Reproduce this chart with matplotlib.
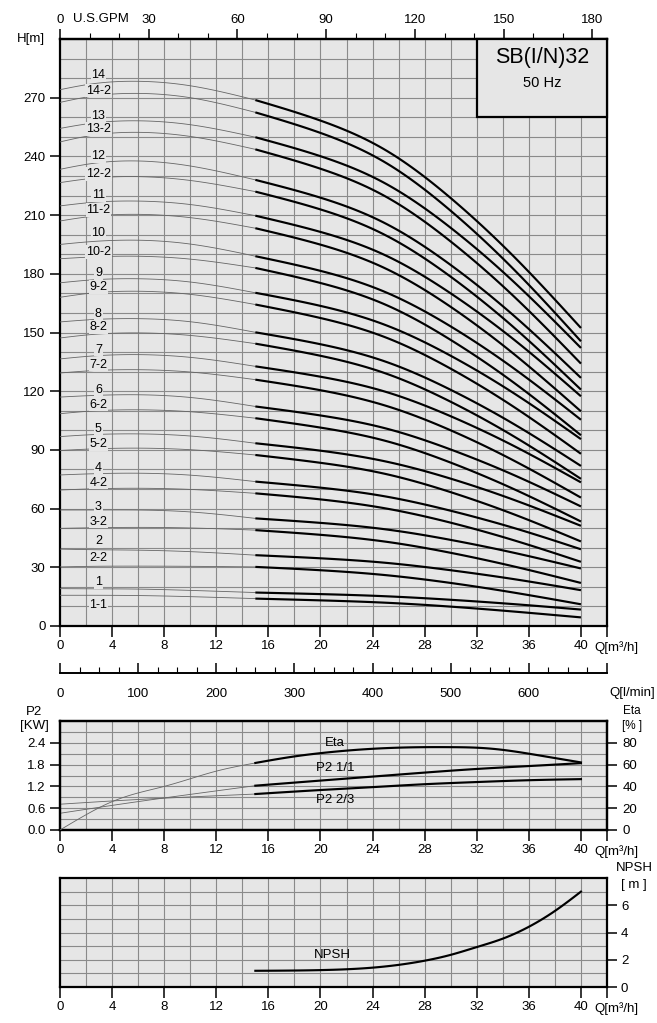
import matplotlib
matplotlib.use('Agg')
import matplotlib.pyplot as plt
import numpy as np
from matplotlib.ticker import MultipleLocator, FixedLocator
from matplotlib.patches import Rectangle

plt.rcParams['font.family'] = ['Liberation Sans', 'DejaVu Sans']
plt.rcParams['font.size'] = 9

# ---------------- data ----------------
q_thin = [0, 2.5, 5.5, 10, 15]
q_thick = [15, 20, 25, 30, 35, 40]

names_full = ['1', '2', '3', '4', '5', '6', '7', '8', '9', '10', '11', '12', '13', '14']
names_red = ['1-1', '2-2', '3-2', '4-2', '5-2', '6-2', '7-2', '8-2', '9-2', '10-2',
             '11-2', '12-2', '13-2', '14-2']

thin_full = [
    [19.1, 19.0, 18.9, 18.2, 17.1],
    [39.3, 39.0, 38.8, 38.0, 36.2],
    [59.3, 59.3, 59.3, 58.3, 55.0],
    [77.2, 77.8, 78.1, 77.1, 73.8],
    [96.8, 97.8, 98.2, 97.1, 93.4],
    [117.0, 117.8, 118.2, 116.8, 112.2],
    [136.5, 138.0, 138.7, 137.3, 132.7],
    [155.4, 156.6, 157.1, 155.5, 150.1],
    [175.4, 176.9, 177.5, 175.8, 170.3],
    [195.0, 196.5, 197.2, 195.2, 189.0],
    [214.7, 216.5, 217.2, 215.4, 209.7],
    [233.4, 236.4, 237.7, 235.1, 228.0],
    [254.3, 257.0, 258.2, 256.2, 249.8],
    [274.1, 277.1, 278.4, 276.1, 268.8],
]
thin_red = [
    [15.7, 15.7, 15.6, 15.0, 14.0],
    [30.2, 30.5, 30.6, 30.5, 30.2],
    [49.9, 50.2, 50.4, 50.1, 49.0],
    [69.5, 70.1, 70.4, 69.8, 67.8],
    [89.7, 90.5, 90.9, 90.1, 87.4],
    [108.5, 109.9, 110.5, 109.5, 106.2],
    [129.3, 130.5, 131.0, 129.8, 125.9],
    [147.2, 149.0, 149.8, 148.5, 144.3],
    [168.0, 170.2, 171.1, 169.5, 164.3],
    [187.7, 188.6, 189.0, 187.5, 183.0],
    [207.0, 209.4, 210.4, 208.7, 203.3],
    [226.6, 228.8, 229.7, 227.7, 222.0],
    [247.4, 250.8, 252.3, 250.2, 243.6],
    [267.6, 270.8, 272.2, 270.0, 262.5],
]
thick_full = [
    [17.1, 16.3, 15.2, 13.4, 11.1, 8.4],
    [36.2, 34.6, 32.3, 28.5, 23.8, 18.3],
    [55.0, 52.7, 49.4, 44.0, 37.2, 29.4],
    [73.8, 70.7, 66.2, 58.9, 49.8, 39.2],
    [93.4, 89.6, 84.1, 75.3, 64.1, 51.2],
    [112.2, 107.6, 101.0, 90.2, 76.7, 61.1],
    [132.7, 127.4, 119.7, 107.2, 91.5, 73.4],
    [150.1, 144.0, 135.1, 120.7, 102.6, 81.8],
    [170.3, 163.6, 153.8, 138.1, 118.3, 95.5],
    [189.0, 181.5, 170.6, 153.1, 130.9, 105.4],
    [209.7, 201.4, 189.4, 170.0, 145.6, 117.4],
    [228.0, 218.9, 205.7, 184.5, 157.7, 126.8],
    [249.8, 240.1, 226.1, 203.5, 174.9, 142.1],
    [268.8, 258.3, 243.2, 218.7, 187.8, 152.3],
]
thick_red = [
    [14.0, 13.1, 11.9, 9.9, 7.3, 4.4],
    [30.2, 28.5, 26.0, 22.0, 16.9, 11.1],
    [49.0, 46.6, 43.1, 37.4, 30.2, 22.0],
    [67.8, 64.7, 60.1, 52.8, 43.5, 32.8],
    [87.4, 83.4, 77.7, 68.4, 56.7, 43.2],
    [106.2, 101.4, 94.6, 83.5, 69.5, 53.4],
    [125.9, 120.5, 112.6, 100.0, 84.0, 65.6],
    [144.3, 138.1, 129.1, 114.6, 96.3, 75.2],
    [164.3, 157.4, 147.5, 131.5, 111.3, 88.0],
    [183.0, 175.3, 164.2, 146.2, 123.6, 97.5],
    [203.3, 194.9, 182.7, 163.1, 138.2, 109.7],
    [222.0, 212.9, 199.7, 178.5, 151.7, 120.8],
    [243.6, 233.7, 219.5, 196.5, 167.5, 134.1],
    [262.5, 252.0, 236.8, 212.2, 181.2, 145.5],
]
label_y_full = [22.5, 43.4, 60.6, 80.6, 100.8, 120.8, 141.2, 159.7, 180.5, 200.7,
                220.1, 240.0, 260.8, 281.6]
label_y_red = [10.6, 34.5, 53.3, 73.3, 93.1, 113.1, 133.6, 152.9, 173.3, 191.1,
               212.6, 230.9, 253.9, 273.6]

# power / efficiency
q_p_thin = [0, 5, 10, 15]
p2_full_thin = [0.46, 0.73, 0.98, 1.22]
p2_23_thin = [0.71, 0.82, 0.91, 0.99]
q_p_thick = [15, 20, 24, 28, 32, 36, 40]
p2_full_thick = [1.22, 1.36, 1.47, 1.58, 1.68, 1.76, 1.84]
p2_23_thick = [0.99, 1.10, 1.18, 1.26, 1.32, 1.37, 1.40]
q_eta_thin = [0, 2, 4, 6, 8, 10, 12, 15]
eta_thin = [0, 14, 26, 34, 40, 47, 54, 61.5]
q_eta_thick = [15, 18, 20, 24, 28, 30, 32, 34, 36, 38, 40]
eta_thick = [61.5, 67.5, 70.5, 74.5, 76, 76, 75.5, 73.5, 70, 66, 62]

# NPSH
q_npsh = [15, 20, 24, 28, 30, 32, 34, 36, 38, 40]
npsh = [1.19, 1.24, 1.42, 1.93, 2.36, 2.93, 3.55, 4.42, 5.58, 7.0]

q_ticks = [0, 4, 8, 12, 16, 20, 24, 28, 32, 36, 40, 42]
q_ticklabels = ['0', '4', '8', '12', '16', '20', '24', '28', '32', '36', '40', '']

# ---------------- style ----------------
BG = '#e6e6e6'
GRID = '#8a8a8a'
THIN = '#666666'
THICK_LW = 1.55
W, H = 657, 1023


def smooth(x, y, n=80):
    """Natural cubic spline through the read points (display only)."""
    x = np.asarray(x, float)
    y = np.asarray(y, float)
    m = len(x)
    h = np.diff(x)
    A = np.zeros((m, m))
    r = np.zeros(m)
    A[0, 0] = A[-1, -1] = 1.0
    for i in range(1, m - 1):
        A[i, i - 1] = h[i - 1]
        A[i, i] = 2 * (h[i - 1] + h[i])
        A[i, i + 1] = h[i]
        r[i] = 6 * ((y[i + 1] - y[i]) / h[i] - (y[i] - y[i - 1]) / h[i - 1])
    M = np.linalg.solve(A, r)
    xs = np.linspace(x[0], x[-1], n)
    k = np.clip(np.searchsorted(x, xs) - 1, 0, m - 2)
    hk = h[k]
    a = (x[k + 1] - xs) / hk
    b = (xs - x[k]) / hk
    ys = a * y[k] + b * y[k + 1] + ((a ** 3 - a) * M[k] + (b ** 3 - b) * M[k + 1]) * hk ** 2 / 6
    return xs, ys


fig = plt.figure(figsize=(W / 100, H / 100), dpi=100)


def fa(x0, y_top, x1, y_bot):
    return [x0 / W, (H - y_bot) / H, (x1 - x0) / W, (y_bot - y_top) / H]


def base(ax, ymax, ystep, qlab_y):
    ax.set_facecolor(BG)
    ax.set_xlim(0, 42)
    ax.set_ylim(0, ymax)
    for x in np.arange(2, 42, 2):
        ax.axvline(x, color=GRID, lw=0.8, zorder=1)
    for y in np.arange(ystep, ymax - 1e-6, ystep):
        ax.axhline(y, color=GRID, lw=0.8, zorder=1)
    for s in ax.spines.values():
        s.set_linewidth(1.6)
        s.set_color('black')
    ax.xaxis.set_major_locator(FixedLocator(q_ticks))
    ax.set_xticklabels(q_ticklabels)
    ax.tick_params(axis='x', direction='out', length=8, width=1.1, pad=2, labelsize=9.5)
    ax.tick_params(axis='y', direction='out', length=7, width=1.1, pad=3.5, labelsize=9.5)
    ax.text(41.0, qlab_y, 'Q[m³/h]', transform=ax.get_xaxis_transform(),
            ha='left', va='center', fontsize=9.5)


# ---------------- main H-Q chart ----------------
ax = fig.add_axes(fa(60, 39, 607, 626))
base(ax, 300, 10, -0.037)
ax.yaxis.set_major_locator(FixedLocator(list(range(0, 271, 30))))

for i in range(14):
    for thin, thick in ((thin_full[i], thick_full[i]), (thin_red[i], thick_red[i])):
        ax.plot(*smooth(q_thin, thin), color=THIN, lw=0.6, zorder=3)
        ax.plot(*smooth(q_thick, thick), color='black', lw=THICK_LW, zorder=4,
                solid_capstyle='butt')
    for nm, yy in ((names_full[i], label_y_full[i]), (names_red[i], label_y_red[i])):
        ax.text(2.95, yy, nm, ha='center', va='center', fontsize=9, zorder=5,
                bbox=dict(facecolor=BG, edgecolor='none', pad=0.5))

ax.add_patch(Rectangle((32, 260), 10, 40, facecolor=BG, edgecolor='black', lw=1.6,
                       zorder=6, clip_on=False))
ax.text(37.0, 290.3, 'SB(I/N)32', ha='center', va='center', fontsize=15.5, zorder=7)
ax.text(37.0, 277.5, '50 Hz', ha='center', va='center', fontsize=10.5, zorder=7)
ax.text(-0.028, 1.0, 'H[m]', transform=ax.transAxes, ha='right', va='center', fontsize=9.5)

gpm = ax.secondary_xaxis('top', functions=(lambda q: q * 4.4029, lambda g: g / 4.4029))
gpm.xaxis.set_major_locator(FixedLocator([0, 30, 60, 90, 120, 150, 180]))
gpm.xaxis.set_minor_locator(MultipleLocator(10))
gpm.tick_params(which='major', direction='out', length=7.5, width=1.1, pad=2, labelsize=9.5)
gpm.tick_params(which='minor', direction='out', length=4, width=0.8)
gpm.spines['top'].set_linewidth(1.6)
ax.text(3.15, 1.0 + 20 / 587, 'U.S.GPM', transform=ax.get_xaxis_transform(),
        ha='center', va='center', fontsize=9.5)

# ---------------- l/min scale ----------------
axl = fig.add_axes(fa(60, 672, 607, 673))
axl.set_xlim(0, 700)
axl.set_yticks([])
for s in ('top', 'left', 'right'):
    axl.spines[s].set_visible(False)
axl.spines['bottom'].set_linewidth(1.4)
axl.patch.set_visible(False)
axl.xaxis.set_major_locator(FixedLocator([0, 100, 200, 300, 400, 500, 600, 700]))
axl.set_xticklabels(['0', '100', '200', '300', '400', '500', '600', ''])
axl.xaxis.set_minor_locator(MultipleLocator(25))
axl.tick_params(which='major', direction='in', length=7, width=1.1, pad=11, labelsize=9.5)
axl.tick_params(which='minor', direction='in', length=4, width=0.8)
fig.text(609 / W, (H - 693) / H, 'Q[l/min]', ha='left', va='center', fontsize=9.5)

# ---------------- P2 / Eta chart ----------------
axp = fig.add_axes(fa(60, 721, 607, 830))
base(axp, 3.0, 0.3, -0.2)
axp.yaxis.set_major_locator(FixedLocator([0, 0.6, 1.2, 1.8, 2.4]))
axp.set_yticklabels(['0.0', '0.6', '1.2', '1.8', '2.4'])
axp.plot(*smooth(q_p_thin, p2_full_thin), color=THIN, lw=0.6, zorder=3)
axp.plot(*smooth(q_p_thin, p2_23_thin), color=THIN, lw=0.6, zorder=3)
axp.plot(*smooth(q_p_thick, p2_full_thick), color='black', lw=THICK_LW, zorder=4)
axp.plot(*smooth(q_p_thick, p2_23_thick), color='black', lw=THICK_LW, zorder=4)
axe = axp.twinx()
axe.set_ylim(0, 100)
axe.yaxis.set_major_locator(FixedLocator([0, 20, 40, 60, 80]))
axe.tick_params(axis='y', direction='out', length=7, width=1.1, pad=4, labelsize=9.5)
for s in axe.spines.values():
    s.set_linewidth(1.6)
axe.plot(*smooth(q_eta_thin, eta_thin), color=THIN, lw=0.6, zorder=3)
axe.plot(*smooth(q_eta_thick, eta_thick), color='black', lw=THICK_LW, zorder=4)
axp.text(21.1, 2.40, 'Eta', ha='center', va='center', fontsize=9.5, zorder=5)
axp.text(21.1, 1.71, 'P2 1/1', ha='center', va='center', fontsize=9.5, zorder=5)
axp.text(21.1, 0.83, 'P2 2/3', ha='center', va='center', fontsize=9.5, zorder=5)
fig.text(34 / W, (H - 712) / H, 'P2', ha='center', va='center', fontsize=9.5)
fig.text(34 / W, (H - 726) / H, '[KW]', ha='center', va='center', fontsize=9.5)
fig.text(632 / W, (H - 711) / H, 'Eta', ha='center', va='center', fontsize=8.5)
fig.text(632 / W, (H - 726) / H, '[% ]', ha='center', va='center', fontsize=8.5)

# ---------------- NPSH chart ----------------
axn = fig.add_axes(fa(60, 878, 607, 987))
base(axn, 8, 1, -0.2)
axn.yaxis.tick_right()
axn.yaxis.set_major_locator(FixedLocator([0, 2, 4, 6]))
axn.tick_params(axis='y', direction='out', length=7, width=1.1, pad=3, labelsize=9.5)
axn.plot(*smooth(q_npsh, npsh), color='black', lw=THICK_LW, zorder=4)
axn.text(20.9, 2.35, 'NPSH', ha='center', va='center', fontsize=9.5, zorder=5)
fig.text(634 / W, (H - 868) / H, 'NPSH', ha='center', va='center', fontsize=9.5)
fig.text(634 / W, (H - 885) / H, '[ m ]', ha='center', va='center', fontsize=9.5)

fig.savefig('out.png', dpi=100)
